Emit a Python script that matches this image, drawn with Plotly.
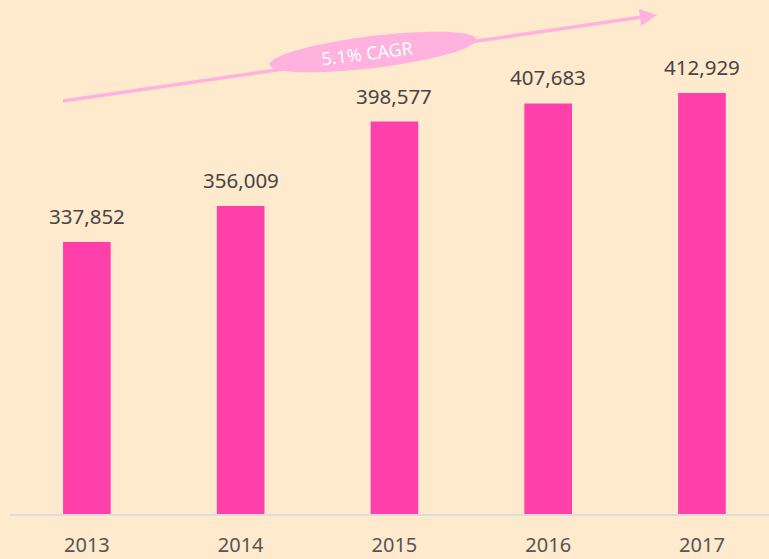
import math
import plotly.graph_objects as go

years = ["2013", "2014", "2015", "2016", "2017"]
values = [337852, 356009, 398577, 407683, 412929]
value_labels = ["337,852", "356,009", "398,577", "407,683", "412,929"]
cagr_label = "5.1% CAGR"

W, H = 769, 559
ML, MR, MT, MB = 10, 0, 0, 45
PW, PH = W - ML - MR, H - MT - MB

BG = "#FFEACD"
BAR = "#FF40AA"
DECO = "#FFB2DD"
TXT = "#454545"
FONT = "Noto Sans"


def px(x, y):
    return (x - ML) / PW, (H - MB - y) / PH


fig = go.Figure()
fig.add_trace(go.Bar(x=years, y=values, marker=dict(color=BAR, line=dict(width=0)),
                     width=0.31, hoverinfo="skip"))

for i, (v, lab) in enumerate(zip(values, value_labels)):
    fig.add_annotation(x=i, y=v, xref="x", yref="y", text=lab, showarrow=False,
                       xanchor="center", yanchor="middle",
                       yshift=26, font=dict(family=FONT, size=20.5, color=TXT))

shapes = []
# arrow line
x0, y0 = px(63, 101)
x1, y1 = px(642, 17)
shapes.append(dict(type="line", xref="paper", yref="paper", x0=x0, y0=y0, x1=x1, y1=y1,
                   line=dict(color=DECO, width=3.5), layer="above"))
# arrowhead
tri = [(657, 15), (639, 9), (641, 26)]
tp = [px(*p) for p in tri]
path = "M {},{} L {},{} L {},{} Z".format(tp[0][0], tp[0][1], tp[1][0], tp[1][1], tp[2][0], tp[2][1])
shapes.append(dict(type="path", xref="paper", yref="paper", path=path,
                   fillcolor=DECO, line=dict(width=0), layer="above"))
# ellipse
cx, cy, a, b = 373, 52, 104, 16
ang = math.radians(-7)
pts = []
for i in range(73):
    t = 2 * math.pi * i / 72
    ex = a * math.cos(t)
    ey = b * math.sin(t)
    X = cx + ex * math.cos(ang) - ey * math.sin(ang)
    Y = cy + ex * math.sin(ang) + ey * math.cos(ang)
    pts.append(px(X, Y))
epath = "M " + " L ".join("{:.5f},{:.5f}".format(p[0], p[1]) for p in pts) + " Z"
shapes.append(dict(type="path", xref="paper", yref="paper", path=epath,
                   fillcolor=DECO, line=dict(width=0), layer="above"))

tx, ty = px(367, 53)
fig.add_annotation(xref="paper", yref="paper", x=tx, y=ty, text=cagr_label, showarrow=False,
                   xanchor="center", yanchor="middle",
                   textangle=-7, font=dict(family=FONT, size=18, color="white"))

fig.update_layout(
    width=W, height=H,
    margin=dict(l=ML, r=MR, t=MT, b=MB, autoexpand=False),
    paper_bgcolor=BG, plot_bgcolor=BG,
    showlegend=False,
    shapes=shapes,
    xaxis=dict(type="category", range=[-0.5, 4.436], showgrid=False, zeroline=False,
               showline=True, linecolor="#DCDCDC", linewidth=2, ticks="",
               tickfont=dict(family=FONT, size=20, color="#555555"), ticklabelstandoff=12),
    yaxis=dict(range=[200800, 459800], showticklabels=False, ticks="", showline=False,
               showgrid=False, zeroline=False),
)

fig.write_html("out.html", config={"displayModeBar": False},
               post_script="document.body.style.margin='0';")
